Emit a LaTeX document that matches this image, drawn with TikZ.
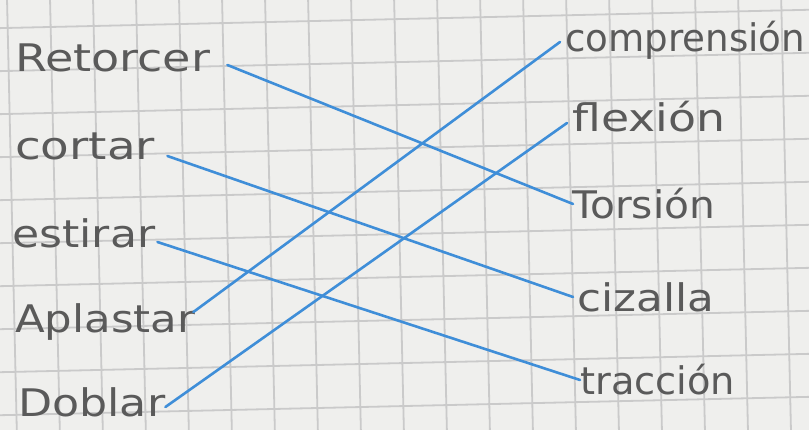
\documentclass[tikz,border=0pt]{standalone}
\usepackage{fontspec}
\usepackage{graphicx}
\setmainfont{DejaVu Sans}
\newcommand\hw[2]{\resizebox{#1pt}{\height}{#2}}
\definecolor{paper}{HTML}{EFEFED}
\definecolor{gridc}{HTML}{CACACA}
\definecolor{pencil}{HTML}{5A5A5A}
\definecolor{ink}{HTML}{3F8ED8}
\begin{document}
\begin{tikzpicture}[x=1pt,y=1pt,
  word/.style={inner sep=0pt,text=pencil,font=\fontsize{38}{40}\selectfont},
  lw/.style={word,anchor=base west},
  conn/.style={draw=ink,line width=2.6pt,line cap=round}]
\useasboundingbox (0,0) rectangle (809,430);
\fill[paper] (0,0) rectangle (809,430);
\begin{scope}
\clip (0,0) rectangle (809,430);
\begin{scope}[shift={(404.5,215)},rotate=1.3]
\foreach \k in {-11,...,11}{
  \draw[gridc,line width=1.8pt] (-5.5+43*\k,-320) -- (-5.5+43*\k,320);
}
\foreach \k in {-7,...,7}{
  \draw[gridc,line width=1.8pt] (-460,24+43*\k) -- (460,24+43*\k);
}
\end{scope}
\end{scope}
% left words
\node[lw] (ret) at (15,358) {\hw{195}{Retorcer}};
\node[lw] (cor) at (15,270) {\hw{140}{cortar}};
\node[lw] (est) at (12,182) {\hw{143}{estirar}};
\node[lw] (apl) at (15,97) {\hw{180}{Aplastar}};
\node[lw] (dob) at (18,13) {\hw{147}{Doblar}};
% right words
\node[lw] (com) at (565,378) {\hw{240}{comprensión}};
\node[lw] (fle) at (572,298) {\hw{153}{flexión}};
\node[lw] (tor) at (572,211) {\hw{143}{Torsión}};
\node[lw] (ciz) at (577,118) {\hw{137}{cizalla}};
\node[lw] (tra) at (580,35) {\hw{155}{tracción}};
% connectors
\draw[conn] ([shift={(17,7)}]ret.base east) -- ([shift={(1,15)}]tor.base west);
\draw[conn] ([shift={(12,4)}]cor.base east) -- ([shift={(-4,15)}]ciz.base west);
\draw[conn] ([shift={(2,6)}]est.base east) -- ([shift={(0,15)}]tra.base west);
\draw[conn] ([shift={(-2,21)}]apl.base east) -- ([shift={(-5,10)}]com.base west);
\draw[conn] ([shift={(0,10)}]dob.base east) -- ([shift={(-5,9)}]fle.base west);
\end{tikzpicture}
\end{document}
